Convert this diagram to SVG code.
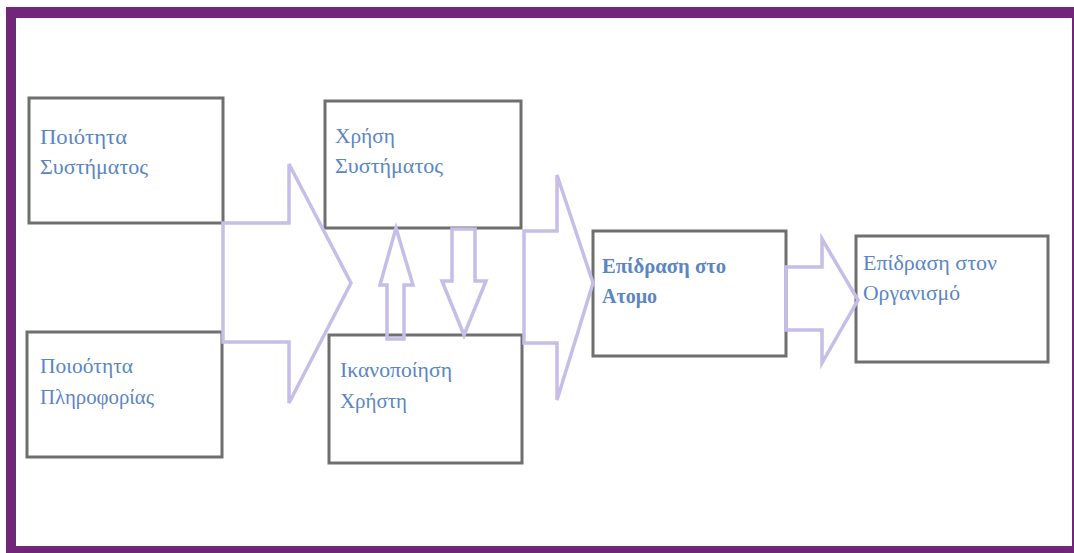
<svg xmlns="http://www.w3.org/2000/svg" width="1074" height="553" viewBox="0 0 1074 553">
  <style>
    .box { fill: #ffffff; stroke: #6f6f6f; stroke-width: 3; }
    .flow { fill: none; stroke: #c6bde9; stroke-width: 3.5; stroke-linejoin: miter; }
    .lbl { font-family: "Liberation Serif", "Times New Roman", serif; font-size: 20px; fill: #5a86c4; }
    .bold { font-weight: bold; }
  </style>

  <!-- frame -->
  <rect x="6" y="7" width="1068" height="546" fill="#72267a"/>
  <rect x="16" y="18" width="1056" height="528" fill="#ffffff"/>

  <!-- nodes -->
  <g id="quality-system">
    <rect class="box" x="29" y="98" width="194" height="125"/>
    <text class="lbl" x="40" y="144" textLength="87" lengthAdjust="spacingAndGlyphs">Ποιότητα</text>
    <text class="lbl" x="40" y="174" textLength="108" lengthAdjust="spacingAndGlyphs">Συστήματος</text>
  </g>
  <g id="quality-information">
    <rect class="box" x="27" y="332" width="195" height="125"/>
    <text class="lbl" x="40" y="373" textLength="93" lengthAdjust="spacingAndGlyphs">Ποιοότητα</text>
    <text class="lbl" x="40" y="404" textLength="114" lengthAdjust="spacingAndGlyphs">Πληροφορίας</text>
  </g>
  <g id="system-use">
    <rect class="box" x="325" y="101" width="196" height="127"/>
    <text class="lbl" x="335" y="143" textLength="60" lengthAdjust="spacingAndGlyphs">Χρήση</text>
    <text class="lbl" x="335" y="173" textLength="108" lengthAdjust="spacingAndGlyphs">Συστήματος</text>
  </g>
  <g id="user-satisfaction">
    <rect class="box" x="329" y="335" width="193" height="128"/>
    <text class="lbl" x="340" y="377" textLength="112" lengthAdjust="spacingAndGlyphs">Ικανοποίηση</text>
    <text class="lbl" x="340" y="408" textLength="67" lengthAdjust="spacingAndGlyphs">Χρήστη</text>
  </g>
  <g id="individual-impact">
    <rect class="box" x="593" y="231" width="193" height="125"/>
    <text class="lbl bold" x="602" y="273" textLength="124" lengthAdjust="spacingAndGlyphs">Επίδραση στο</text>
    <text class="lbl bold" x="602" y="303" textLength="55" lengthAdjust="spacingAndGlyphs">Ατομο</text>
  </g>
  <g id="organizational-impact">
    <rect class="box" x="856" y="236" width="192" height="126"/>
    <text class="lbl" x="863" y="270" textLength="134" lengthAdjust="spacingAndGlyphs">Επίδραση στον</text>
    <text class="lbl" x="863" y="300" textLength="97" lengthAdjust="spacingAndGlyphs">Οργανισμό</text>
  </g>

  <!-- connectors: block arrows -->
  <g id="connectors">
    <path class="flow" d="M223,223 H289 V164 L351,283 L289,403 V342 H223 Z"/>
    <path class="flow" d="M387,339 V285 H380 L396,228 L413,285 H404 V339 Z"/>
    <path class="flow" d="M452,229 H475 V281 H486 L464,335 L442,281 H452 Z"/>
    <path class="flow" d="M524,231 H557 V175 L593,283 L557,400 V343 H524 Z"/>
    <path class="flow" d="M786,267 H822 V239 L858,300 L822,363 V330 H786 Z"/>
  </g>
</svg>
